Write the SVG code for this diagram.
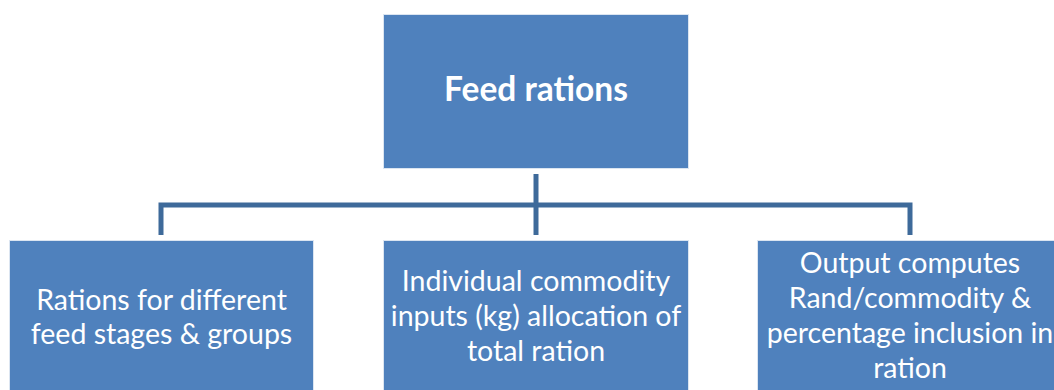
<svg xmlns="http://www.w3.org/2000/svg" width="1054" height="390" viewBox="0 0 1054 390">
  <style>
    .box { fill: #4f81bd; stroke: #dbe5f1; stroke-width: 1; }
    .title { font-family: Lato, "Open Sans", sans-serif; font-weight: bold; font-size: 33.5px; fill: #ffffff; text-anchor: middle; }
    .label { font-family: Lato, "Open Sans", sans-serif; font-size: 28.5px; fill: #ffffff; text-anchor: middle; }
    .link { fill: none; stroke: #3e6a9a; stroke-width: 5; stroke-linejoin: miter; }
  </style>
  <rect width="1054" height="390" fill="#ffffff"/>

  <!-- org-chart connectors -->
  <g id="connectors">
    <path class="link" d="M536 174 V235"/>
    <path class="link" d="M161 235 V205 H910 V235"/>
  </g>

  <g id="feed-rations">
    <rect class="box" x="383.5" y="14.5" width="305" height="154"/>
    <text class="title" x="536" y="101">Feed rations</text>
  </g>

  <g id="stages-groups">
    <rect class="box" x="9.5" y="240.5" width="304" height="154"/>
    <text class="label" x="161.5" y="310">Rations for different</text>
    <text class="label" x="161.5" y="344">feed stages &amp; groups</text>
  </g>

  <g id="commodity-inputs">
    <rect class="box" x="383.5" y="240.5" width="305" height="154"/>
    <text class="label" x="536" y="291">Individual commodity</text>
    <text class="label" x="536" y="326">inputs (kg) allocation of</text>
    <text class="label" x="536" y="361">total ration</text>
  </g>

  <g id="output-computes">
    <rect class="box" x="757.5" y="240.5" width="305" height="154"/>
    <text class="label" x="910" y="273">Output computes</text>
    <text class="label" x="910" y="308">Rand/commodity &amp;</text>
    <text class="label" x="910" y="343">percentage inclusion in</text>
    <text class="label" x="910" y="378">ration</text>
  </g>
</svg>
